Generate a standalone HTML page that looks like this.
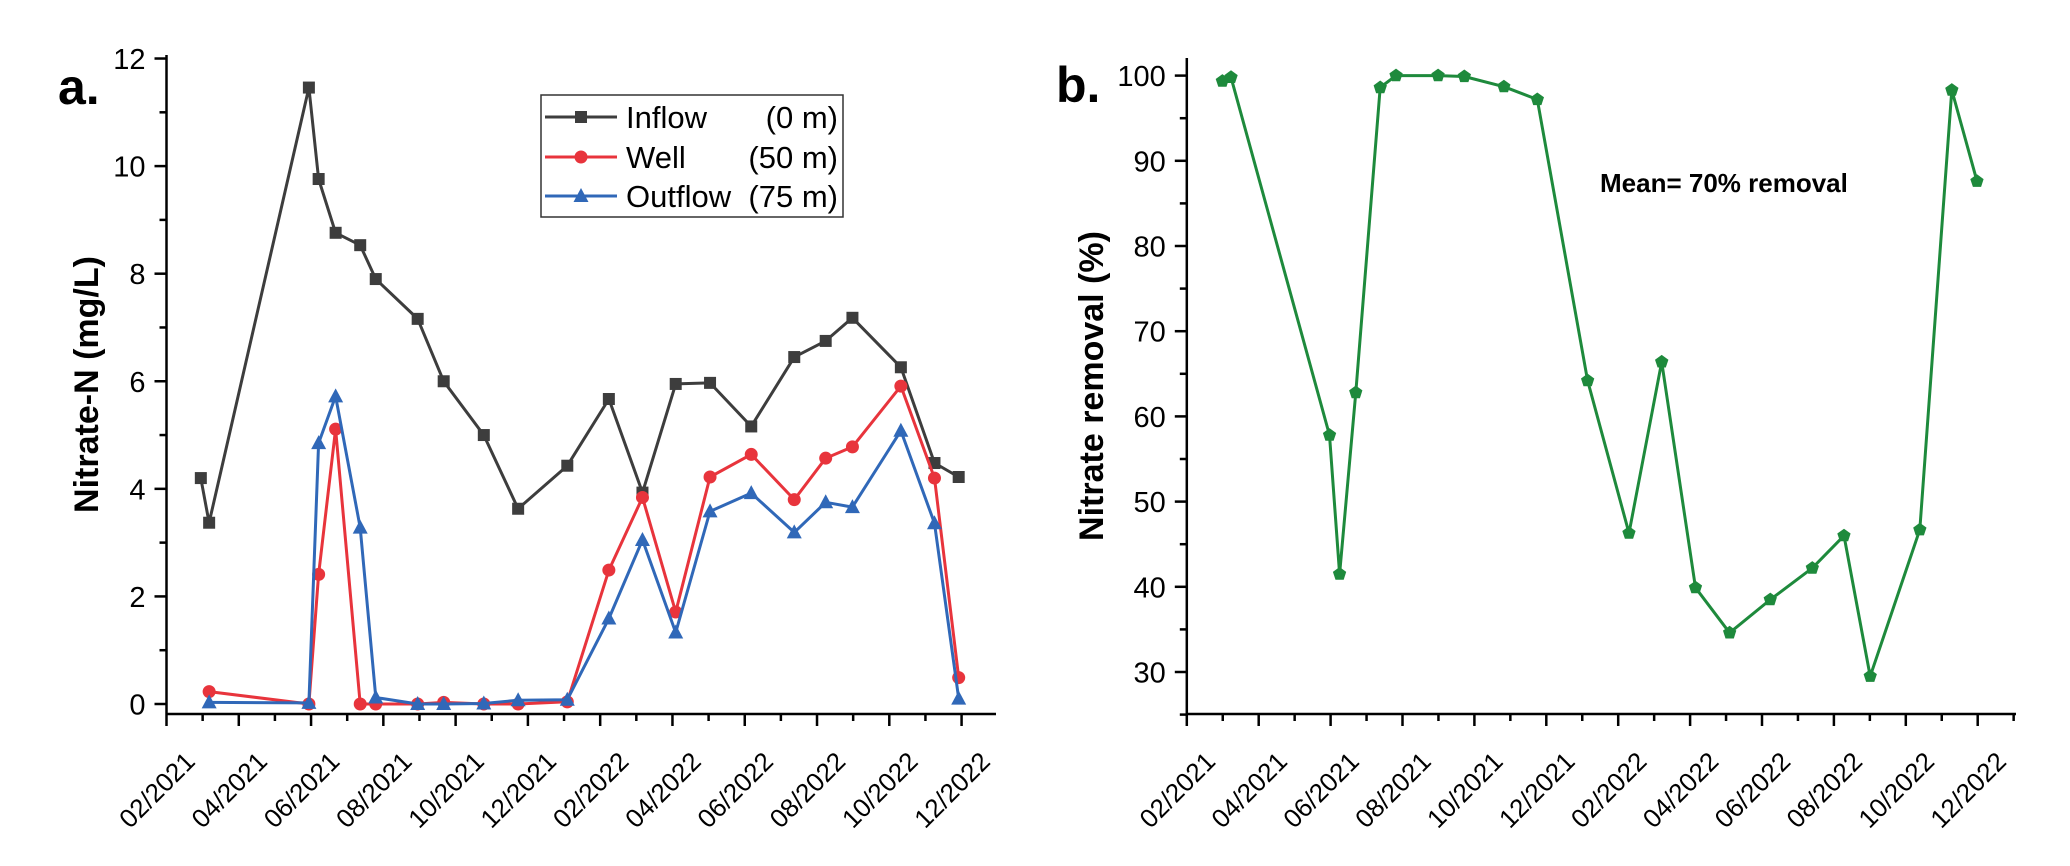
<!DOCTYPE html>
<html><head><meta charset="utf-8"><style>
html,body{margin:0;padding:0;background:#fff;}
svg{display:block;font-family:"Liberation Sans",Arial,sans-serif;}
</style></head><body>
<svg id="fig" width="2070" height="866" viewBox="0 0 2070 866" xmlns="http://www.w3.org/2000/svg">
<g id="panelA"></g>
<g id="panelB"></g>
</svg>
<script>
// Months since 02/2021
const tickLabels = ["02/2021","04/2021","06/2021","08/2021","10/2021","12/2021","02/2022","04/2022","06/2022","08/2022","10/2022","12/2022"];
const inflowMonths = [0.95,1.18,3.94,4.21,4.68,5.36,5.79,6.95,7.67,8.78,9.73,11.09,12.24,13.17,14.09,15.04,16.18,17.37,18.24,18.98,20.32,21.25,21.92];
const inflowValues = [4.2,3.37,11.46,9.76,8.76,8.53,7.9,7.16,6.0,5.0,3.63,4.43,5.67,3.93,5.95,5.97,5.16,6.45,6.75,7.18,6.26,4.48,4.22];
const wellMonths = [1.18,3.94,4.21,4.68,5.36,5.79,6.95,7.67,8.78,9.73,11.09,12.24,13.17,14.09,15.04,16.18,17.37,18.24,18.98,20.32,21.25,21.92];
const wellValues = [0.23,0,2.41,5.11,0,0,0,0.03,0,0,0.04,2.49,3.84,1.71,4.22,4.64,3.8,4.57,4.78,5.91,4.2,0.49];
const outflowMonths = [1.18,3.94,4.21,4.68,5.36,5.79,6.95,7.67,8.78,9.73,11.09,12.24,13.17,14.09,15.04,16.18,17.37,18.24,18.98,20.32,21.25,21.92];
const outflowValues = [0.03,0.02,4.85,5.72,3.28,0.12,0,0,0.01,0.07,0.08,1.59,3.05,1.33,3.58,3.92,3.19,3.75,3.66,5.08,3.36,0.1];
const removalMonths = [0.99,1.23,3.97,4.25,4.70,5.38,5.82,6.99,7.72,8.82,9.75,11.15,12.30,13.21,14.15,15.10,16.23,17.40,18.28,19.01,20.39,21.28,21.98];
const removalValues = [99.35,99.8,57.8,41.5,62.8,98.6,100,100,99.9,98.7,97.2,64.2,46.3,66.4,39.9,34.6,38.5,42.2,46.0,29.5,46.7,98.3,87.6];
const leftYTicks = [0,2,4,6,8,10,12];
const rightYTicks = [30,40,50,60,70,80,90,100];

const NS="http://www.w3.org/2000/svg";
function mk(parent,tag,attrs,text){const e=document.createElementNS(NS,tag);for(const k in attrs)e.setAttribute(k,attrs[k]);if(text!==undefined)e.textContent=text;parent.appendChild(e);return e;}

const axA={x0:166.5,x1:996,yAxis:714,top:55,px:36.14};
const xA=m=>axA.x0+m*axA.px;
const yA=v=>704-v*53.79;
const axB={x0:1186.8,x1:2016,yAxis:714,top:58,px:35.95};
const xB=m=>axB.x0+m*axB.px;
const yB=v=>672-(v-30)*8.52;

function drawAxes(g,ax,xs,ys,yTicks,yMinorStep,yMin,yMax,title,titleX){
  const a=mk(g,'line',{x1:ax.x0,y1:ax.top,x2:ax.x0,y2:ax.yAxis,stroke:'#000','stroke-width':2.5});
  
  const b=mk(g,'line',{x1:ax.x0-1,y1:ax.yAxis,x2:ax.x1,y2:ax.yAxis,stroke:'#000','stroke-width':2.5});
  
  for(let m=0;m<=23;m++){
    const x=xs(m);if(x>ax.x1)break;
    const t=mk(g,'line',{x1:x,y1:ax.yAxis,x2:x,y2:ax.yAxis+(m%2===0?12:7),stroke:'#000','stroke-width':2.5});
    
  }
  tickLabels.forEach((lab,i)=>{
    const x=xs(i*2)+30,y=763;
    const t=mk(g,'text',{x:x,y:y,'font-size':26,'text-anchor':'end',transform:`rotate(-45 ${x} ${y})`,fill:'#000'},lab);
    
  });
  for(let v=yMin;v<=yMax+1e-9;v+=yMinorStep){
    const major=yTicks.some(t=>Math.abs(t-v)<1e-6);
    const y=ys(v);
    const t=mk(g,'line',{x1:ax.x0-(major?12:7),y1:y,x2:ax.x0,y2:y,stroke:'#000','stroke-width':2.5});
    
  }
  yTicks.forEach(v=>{
    const t=mk(g,'text',{x:ax.x0-21,y:ys(v)+10.5,'font-size':29,'text-anchor':'end',fill:'#000'},String(v));
    
  });
  const cy=(ax.top+ax.yAxis)/2;
  const tt=mk(g,'text',{x:titleX,y:cy,'font-size':34,'font-weight':'bold','text-anchor':'middle',transform:`rotate(-90 ${titleX} ${cy})`,fill:'#000'},title);
  
}

function marker(g,type,x,y,color){
  let e;
  if(type==='square') e=mk(g,'rect',{x:x-6,y:y-6,width:12,height:12,fill:color});
  else if(type==='circle') e=mk(g,'circle',{cx:x,cy:y,r:6.5,fill:color});
  else if(type==='triangle') e=mk(g,'polygon',{points:`${x},${y-8} ${x+7.5},${y+6} ${x-7.5},${y+6}`,fill:color});
  else { let p=[];for(let k=0;k<5;k++){const an=-Math.PI/2+k*2*Math.PI/5;p.push((x+7*Math.cos(an)).toFixed(1)+','+(y+7*Math.sin(an)).toFixed(1));} e=mk(g,'polygon',{points:p.join(' '),fill:color}); }
  return e;
}

function series(g,name,months,values,xs,ys,color,type){
  const sg=mk(g,'g',{});
  
  const pts=months.map((m,i)=>xs(m).toFixed(1)+','+ys(values[i]).toFixed(1)).join(' ');
  const l=mk(sg,'polyline',{points:pts,fill:'none',stroke:color,'stroke-width':3,'stroke-linejoin':'round'});
  
  months.forEach((m,i)=>{
    const e=marker(sg,type,xs(m),ys(values[i]),color);
    
  });
}

const gA=document.getElementById('panelA');
drawAxes(gA,axA,xA,yA,leftYTicks,1,0,12,'Nitrate-N (mg/L)',98);
const la=mk(gA,'text',{x:58,y:104,'font-size':50,'font-weight':'bold',fill:'#000'},'a.');

series(gA,'inflow',inflowMonths,inflowValues,xA,yA,'#3d3d3d','square');
series(gA,'well',wellMonths,wellValues,xA,yA,'#e8343c','circle');
series(gA,'outflow',outflowMonths,outflowValues,xA,yA,'#3068b8','triangle');
const lg=mk(gA,'g',{});

const lb=mk(lg,'rect',{x:541,y:95,width:302,height:122,fill:'#fff',stroke:'#333','stroke-width':1.5});

const legItems=[['Inflow','(0 m)','#3d3d3d','square',117],['Well','(50 m)','#e8343c','circle',157],['Outflow','(75 m)','#3068b8','triangle',196]];
legItems.forEach(it=>{
  const eg=mk(lg,'g',{});
  
  mk(eg,'line',{x1:545,y1:it[4],x2:617,y2:it[4],stroke:it[2],'stroke-width':3});
  marker(eg,it[3],581,it[4],it[2]);
  mk(eg,'text',{x:626,y:it[4]+11,'font-size':31,fill:'#000'},it[0]);
  mk(eg,'text',{x:838,y:it[4]+11,'font-size':31,'text-anchor':'end',fill:'#000'},it[1]);
});

const gB=document.getElementById('panelB');
drawAxes(gB,axB,xB,yB,rightYTicks,5,25,100,'Nitrate removal (%)',1103);
const lbB=mk(gB,'text',{x:1056,y:102,'font-size':50,'font-weight':'bold',fill:'#000'},'b.');

series(gB,'removal',removalMonths,removalValues,xB,yB,'#1e8a3c','pentagon');
const mt=mk(gB,'text',{x:1600,y:192,'font-size':26,'font-weight':'bold',fill:'#000'},'Mean= 70% removal');

</script>
</body></html>
